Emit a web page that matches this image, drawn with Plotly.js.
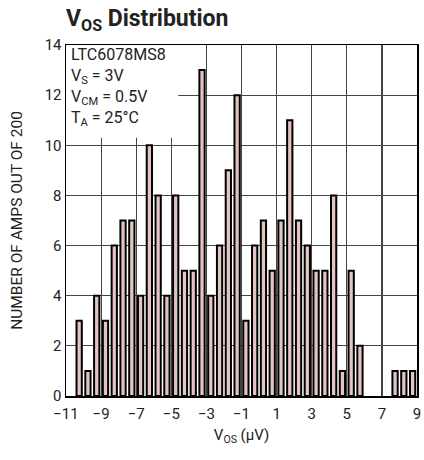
<!DOCTYPE html>
<html><head><meta charset="utf-8">
<script src="https://cdn.plot.ly/plotly-3.0.1.min.js"></script>
<style>html,body{margin:0;padding:0;background:#fff}#chart{width:424px;height:460px}</style>
</head><body><div id="chart"></div>
<script>
// bin centers (µV) and counts out of 200
const binCenters = [-10.25,-9.75,-9.25,-8.75,-8.25,-7.75,-7.25,-6.75,-6.25,-5.75,-5.25,-4.75,-4.25,-3.75,-3.25,-2.75,-2.25,-1.75,-1.25,-0.75,-0.25,0.25,0.75,1.25,1.75,2.25,2.75,3.25,3.75,4.25,4.75,5.25,5.75,6.25,6.75,7.25,7.75,8.25,8.75];
const counts = [3,1,4,3,6,7,7,4,10,8,4,8,5,5,13,4,6,9,12,3,6,7,5,7,11,7,6,5,5,8,1,5,2,0,0,0,1,1,1];
const xTicks = [-11,-9,-7,-5,-3,-1,1,3,5,7,9];
const xTickLabels = ['\u221211','\u22129','\u22127','\u22125','\u22123','\u22121','1','3','5','7','9'];
const yTicks = [0,2,4,6,8,10,12,14];
const infoLines = ['LTC6078MS8','V<sub>S</sub> = 3V','V<sub>CM</sub> = 0.5V','T<sub>A</sub> = 25\u00B0C'];

const FONT = "Roboto, 'Liberation Sans', Arial, sans-serif";

const trace = {
  type: 'bar', x: binCenters, y: counts.map(c => (c === 0 ? null : c)), width: 0.3,
  marker: {color: '#e3c4c0', line: {color: '#000', width: 2}},
  hoverinfo: 'skip'
};

const layout = {
  width: 424, height: 460,
  margin: {l: 66, r: 7, t: 45, b: 64},
  paper_bgcolor: '#fff', plot_bgcolor: '#fff',
  showlegend: false,
  font: {family: FONT, size: 15, color: '#222'},
  title: {text: '<b>V<sub>OS</sub> Distribution</b>', x: 0, xref: 'paper', xanchor: 'left', y: 0.978, yref: 'container', yanchor: 'top',
          font: {family: FONT, size: 23, color: '#222'}},
  xaxis: {range: [-11, 9], tickvals: xTicks, ticktext: xTickLabels, showgrid: true, gridcolor: '#444', gridwidth: 1.2,
          zeroline: false, showline: true, linecolor: '#000', linewidth: 1.5, mirror: true, ticks: '', ticklen: 0,
          ticklabelstandoff: 3,
          tickfont: {size: 15, color: '#222'},
          title: {text: 'V<sub>OS</sub> (\u00B5V)', font: {size: 15, color: '#222'}, standoff: 8}},
  yaxis: {range: [0, 14], tickvals: yTicks, showgrid: true, gridcolor: '#444', gridwidth: 1.2,
          zeroline: false, showline: true, linecolor: '#000', linewidth: 1.5, mirror: true, ticks: '', ticklen: 0,
          tickfont: {size: 15, color: '#222'},
          title: {text: 'NUMBER OF AMPS OUT OF 200', font: {size: 15.5, color: '#222'}, standoff: 18}},
  shapes: [{type: 'rect', xref: 'x', yref: 'y', x0: -11, x1: -4.6, y0: 10.3, y1: 14, fillcolor: '#fff', line: {width: 0}, layer: 'above'}],
  annotations: infoLines.map((t, i) => ({
    text: t, xref: 'paper', yref: 'paper', x: 0.008, y: 1.005 - i * 0.06, xanchor: 'left', yanchor: 'top',
    showarrow: false, font: {size: 16, color: '#222'}, align: 'left'
  }))
};

Plotly.newPlot('chart', [trace], layout, {staticPlot: true, displayModeBar: false});
</script></body></html>
